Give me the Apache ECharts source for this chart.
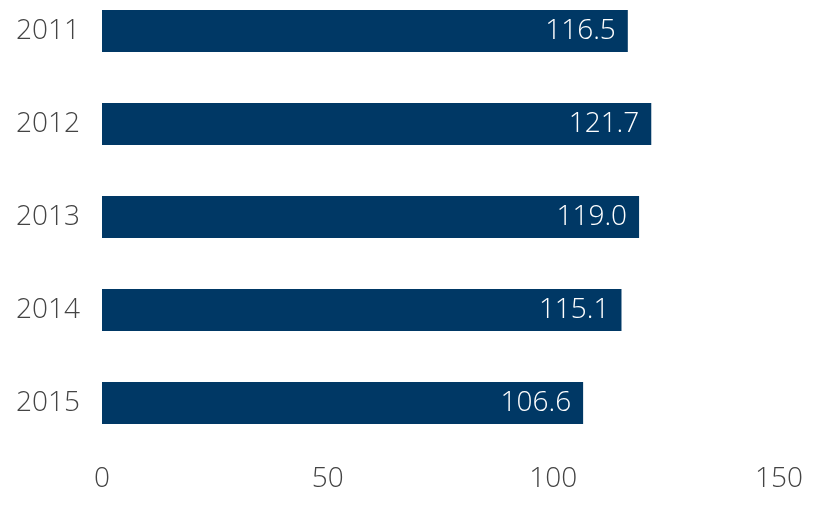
<!DOCTYPE html>
<html>
<head>
<meta charset="utf-8">
<script src="https://cdn.jsdelivr.net/npm/echarts@6/dist/echarts.min.js"></script>
<style>
  html, body { margin: 0; padding: 0; background: #fff; }
  #chart { width: 830px; height: 531px; }
</style>
</head>
<body>
<div id="chart"></div>
<script>
var years = ['2011', '2012', '2013', '2014', '2015'];
var values = [116.5, 121.7, 119.0, 115.1, 106.6];
var xTicks = [0, 50, 100, 150];

var chart = echarts.init(document.getElementById('chart'), null, { renderer: 'canvas' });

var labelFont = 'Open Sans';

var option = {
  backgroundColor: '#fff',
  animation: false,
  grid: {
    left: 102,
    right: 51,
    top: 31,
    bottom: 128,
    containLabel: false
  },
  xAxis: {
    type: 'value',
    min: xTicks[0],
    max: xTicks[xTicks.length - 1],
    interval: 50,
    axisLine: { show: false },
    axisTick: { show: false },
    splitLine: { show: false },
    axisLabel: {
      margin: 62,
      color: '#444',
      fontSize: 28,
      fontFamily: labelFont,
      fontWeight: 300
    }
  },
  yAxis: {
    type: 'category',
    data: years,
    inverse: true,
    boundaryGap: false,
    axisLine: { show: false },
    axisTick: { show: false },
    splitLine: { show: false },
    axisLabel: {
      margin: 22,
      color: '#444',
      fontSize: 28,
      fontFamily: labelFont,
      fontWeight: 300
    }
  },
  series: [{
    type: 'bar',
    data: values,
    barWidth: 42,
    itemStyle: { color: '#003865' },
    label: {
      show: true,
      position: 'insideRight',
      distance: 12,
      color: '#fff',
      fontSize: 28,
      fontFamily: labelFont,
      fontWeight: 300,
      formatter: function (p) {
        return p.value.toFixed(1);
      }
    }
  }]
};

chart.setOption(option);
</script>
</body>
</html>
